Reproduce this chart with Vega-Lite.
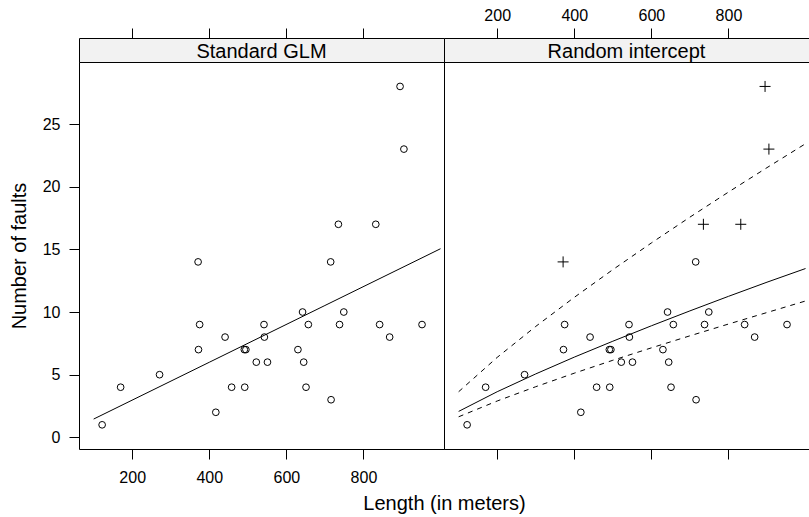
{
  "$schema": "https://vega.github.io/schema/vega-lite/v6.json",
  "padding": {"left": 8, "top": 6, "right": 0, "bottom": 0},
  "background": "white",
  "columns": 2,
  "spacing": 0,
  "bounds": "flush",
  "datasets": {
    "pts": [
      {"length": 122, "faults": 1, "out": "no"},
      {"length": 170, "faults": 4, "out": "no"},
      {"length": 271, "faults": 5, "out": "no"},
      {"length": 371, "faults": 14, "out": "yes"},
      {"length": 372, "faults": 7, "out": "no"},
      {"length": 375, "faults": 9, "out": "no"},
      {"length": 417, "faults": 2, "out": "no"},
      {"length": 441, "faults": 8, "out": "no"},
      {"length": 458, "faults": 4, "out": "no"},
      {"length": 491, "faults": 7, "out": "no"},
      {"length": 492, "faults": 4, "out": "no"},
      {"length": 495, "faults": 7, "out": "no"},
      {"length": 522, "faults": 6, "out": "no"},
      {"length": 542, "faults": 9, "out": "no"},
      {"length": 543, "faults": 8, "out": "no"},
      {"length": 551, "faults": 6, "out": "no"},
      {"length": 630, "faults": 7, "out": "no"},
      {"length": 642, "faults": 10, "out": "no"},
      {"length": 645, "faults": 6, "out": "no"},
      {"length": 651, "faults": 4, "out": "no"},
      {"length": 657, "faults": 9, "out": "no"},
      {"length": 715, "faults": 14, "out": "no"},
      {"length": 716, "faults": 3, "out": "no"},
      {"length": 735, "faults": 17, "out": "yes"},
      {"length": 738, "faults": 9, "out": "no"},
      {"length": 749, "faults": 10, "out": "no"},
      {"length": 832, "faults": 17, "out": "yes"},
      {"length": 842, "faults": 9, "out": "no"},
      {"length": 868, "faults": 8, "out": "no"},
      {"length": 895, "faults": 28, "out": "yes"},
      {"length": 905, "faults": 23, "out": "yes"},
      {"length": 952, "faults": 9, "out": "no"}
    ],
    "fits": [
      {"panel": "glm", "kind": "fit", "length": 100, "faults": 1.46},
      {"panel": "glm", "kind": "fit", "length": 400, "faults": 5.99},
      {"panel": "glm", "kind": "fit", "length": 700, "faults": 10.52},
      {"panel": "glm", "kind": "fit", "length": 1000, "faults": 15.05},
      {"panel": "ri", "kind": "fit", "length": 100, "faults": 2.07},
      {"panel": "ri", "kind": "fit", "length": 200, "faults": 3.64},
      {"panel": "ri", "kind": "fit", "length": 300, "faults": 5.06},
      {"panel": "ri", "kind": "fit", "length": 400, "faults": 6.40},
      {"panel": "ri", "kind": "fit", "length": 500, "faults": 7.67},
      {"panel": "ri", "kind": "fit", "length": 600, "faults": 8.90},
      {"panel": "ri", "kind": "fit", "length": 700, "faults": 10.09},
      {"panel": "ri", "kind": "fit", "length": 800, "faults": 11.25},
      {"panel": "ri", "kind": "fit", "length": 900, "faults": 12.38},
      {"panel": "ri", "kind": "fit", "length": 1000, "faults": 13.47},
      {"panel": "ri", "kind": "upper", "length": 100, "faults": 3.64},
      {"panel": "ri", "kind": "upper", "length": 200, "faults": 6.38},
      {"panel": "ri", "kind": "upper", "length": 300, "faults": 8.85},
      {"panel": "ri", "kind": "upper", "length": 400, "faults": 11.17},
      {"panel": "ri", "kind": "upper", "length": 500, "faults": 13.38},
      {"panel": "ri", "kind": "upper", "length": 600, "faults": 15.51},
      {"panel": "ri", "kind": "upper", "length": 700, "faults": 17.57},
      {"panel": "ri", "kind": "upper", "length": 800, "faults": 19.57},
      {"panel": "ri", "kind": "upper", "length": 900, "faults": 21.52},
      {"panel": "ri", "kind": "upper", "length": 1000, "faults": 23.43},
      {"panel": "ri", "kind": "lower", "length": 100, "faults": 1.64},
      {"panel": "ri", "kind": "lower", "length": 200, "faults": 2.90},
      {"panel": "ri", "kind": "lower", "length": 300, "faults": 4.04},
      {"panel": "ri", "kind": "lower", "length": 400, "faults": 5.12},
      {"panel": "ri", "kind": "lower", "length": 500, "faults": 6.15},
      {"panel": "ri", "kind": "lower", "length": 600, "faults": 7.14},
      {"panel": "ri", "kind": "lower", "length": 700, "faults": 8.10},
      {"panel": "ri", "kind": "lower", "length": 800, "faults": 9.04},
      {"panel": "ri", "kind": "lower", "length": 900, "faults": 9.96},
      {"panel": "ri", "kind": "lower", "length": 1000, "faults": 10.88}
    ]
  },
  "config": {
    "view": {"stroke": "black", "strokeWidth": 1},
    "axis": {
      "domain": false,
      "grid": false,
      "tickColor": "black",
      "tickSize": 10,
      "tickWidth": 1,
      "labelColor": "black",
      "labelFont": "Liberation Sans",
      "labelFontSize": 16,
      "labelFlush": false,
      "labelOverlap": false,
      "titleFont": "Liberation Sans",
      "titleFontSize": 20,
      "titleFontWeight": "normal",
      "titleColor": "black"
    }
  },
  "concat": [
    {
      "width": 365,
      "height": 24,
      "view": {"fill": "#f2f2f2", "stroke": "black"},
      "data": {"values": [{"panel": "Standard GLM"}]},
      "mark": {"type": "text", "font": "Liberation Sans", "fontSize": 20, "color": "black", "baseline": "middle", "align": "center", "dy": 2},
      "encoding": {"text": {"field": "panel"}}
    },
    {
      "width": 365,
      "height": 24,
      "view": {"fill": "#f2f2f2", "stroke": "black"},
      "data": {"values": [{"panel": "Random intercept"}]},
      "mark": {"type": "text", "font": "Liberation Sans", "fontSize": 20, "color": "black", "baseline": "middle", "align": "center", "dy": 2},
      "encoding": {"text": {"field": "panel"}}
    },
    {
      "width": 365,
      "height": 387,
      "resolve": {"axis": {"x": "independent"}},
      "layer": [
        {
          "data": {"name": "pts"},
          "mark": {"type": "point", "shape": "circle", "size": 45, "filled": false, "stroke": "black", "strokeWidth": 1, "opacity": 1},
          "encoding": {
            "x": {"field": "length", "type": "quantitative", "scale": {"domain": [62, 1009], "nice": false, "zero": false},
                  "axis": {"orient": "bottom", "values": [200, 400, 600, 800], "title": "Length (in meters)", "titleX": 365, "titleAlign": "center", "labelPadding": 10, "titlePadding": 8}},
            "y": {"field": "faults", "type": "quantitative", "scale": {"domain": [-0.93, 29.95], "nice": false, "zero": false},
                  "axis": {"values": [0, 5, 10, 15, 20, 25], "title": "Number of faults", "labelPadding": 9, "titlePadding": 13}}
          }
        },
        {
          "data": {"name": "fits"},
          "transform": [{"filter": "datum.panel === 'glm'"}],
          "mark": {"type": "line", "stroke": "black", "strokeWidth": 1},
          "encoding": {
            "x": {"field": "length", "type": "quantitative", "scale": {"domain": [62, 1009], "nice": false, "zero": false},
                  "axis": {"orient": "top", "values": [200, 400, 600, 800], "labels": false, "title": null, "offset": 24}},
            "y": {"field": "faults", "type": "quantitative", "scale": {"domain": [-0.93, 29.95], "nice": false, "zero": false},
                  "axis": {"values": [0, 5, 10, 15, 20, 25], "title": "Number of faults", "labelPadding": 9, "titlePadding": 13}}
          }
        }
      ]
    },
    {
      "width": 365,
      "height": 387,
      "resolve": {"axis": {"x": "independent"}},
      "layer": [
        {
          "data": {"name": "pts"},
          "transform": [{"filter": "datum.out === 'no'"}],
          "mark": {"type": "point", "shape": "circle", "size": 45, "filled": false, "stroke": "black", "strokeWidth": 1, "opacity": 1},
          "encoding": {
            "x": {"field": "length", "type": "quantitative", "scale": {"domain": [62, 1009], "nice": false, "zero": false},
                  "axis": {"orient": "bottom", "values": [200, 400, 600, 800], "labels": false, "title": null}},
            "y": {"field": "faults", "type": "quantitative", "scale": {"domain": [-0.93, 29.95], "nice": false, "zero": false}, "axis": null}
          }
        },
        {
          "data": {"name": "pts"},
          "transform": [{"filter": "datum.out === 'yes'"}],
          "mark": {"type": "point", "shape": "M-1,0L1,0M0,-1L0,1", "size": 121, "filled": false, "stroke": "black", "strokeWidth": 1, "opacity": 1},
          "encoding": {
            "x": {"field": "length", "type": "quantitative", "scale": {"domain": [62, 1009], "nice": false, "zero": false},
                  "axis": {"orient": "top", "values": [200, 400, 600, 800], "title": null, "offset": 24, "labelPadding": 5}},
            "y": {"field": "faults", "type": "quantitative", "scale": {"domain": [-0.93, 29.95], "nice": false, "zero": false}, "axis": null}
          }
        },
        {
          "data": {"name": "fits"},
          "transform": [{"filter": "datum.panel === 'ri' && datum.kind === 'fit'"}],
          "mark": {"type": "line", "stroke": "black", "strokeWidth": 1},
          "encoding": {
            "x": {"field": "length", "type": "quantitative", "scale": {"domain": [62, 1009], "nice": false, "zero": false}, "axis": null},
            "y": {"field": "faults", "type": "quantitative", "scale": {"domain": [-0.93, 29.95], "nice": false, "zero": false}, "axis": null}
          }
        },
        {
          "data": {"name": "fits"},
          "transform": [{"filter": "datum.panel === 'ri' && datum.kind !== 'fit'"}],
          "mark": {"type": "line", "stroke": "black", "strokeWidth": 1, "strokeDash": [5, 5]},
          "encoding": {
            "x": {"field": "length", "type": "quantitative", "scale": {"domain": [62, 1009], "nice": false, "zero": false}, "axis": null},
            "y": {"field": "faults", "type": "quantitative", "scale": {"domain": [-0.93, 29.95], "nice": false, "zero": false}, "axis": null},
            "detail": {"field": "kind"}
          }
        }
      ]
    }
  ]
}
